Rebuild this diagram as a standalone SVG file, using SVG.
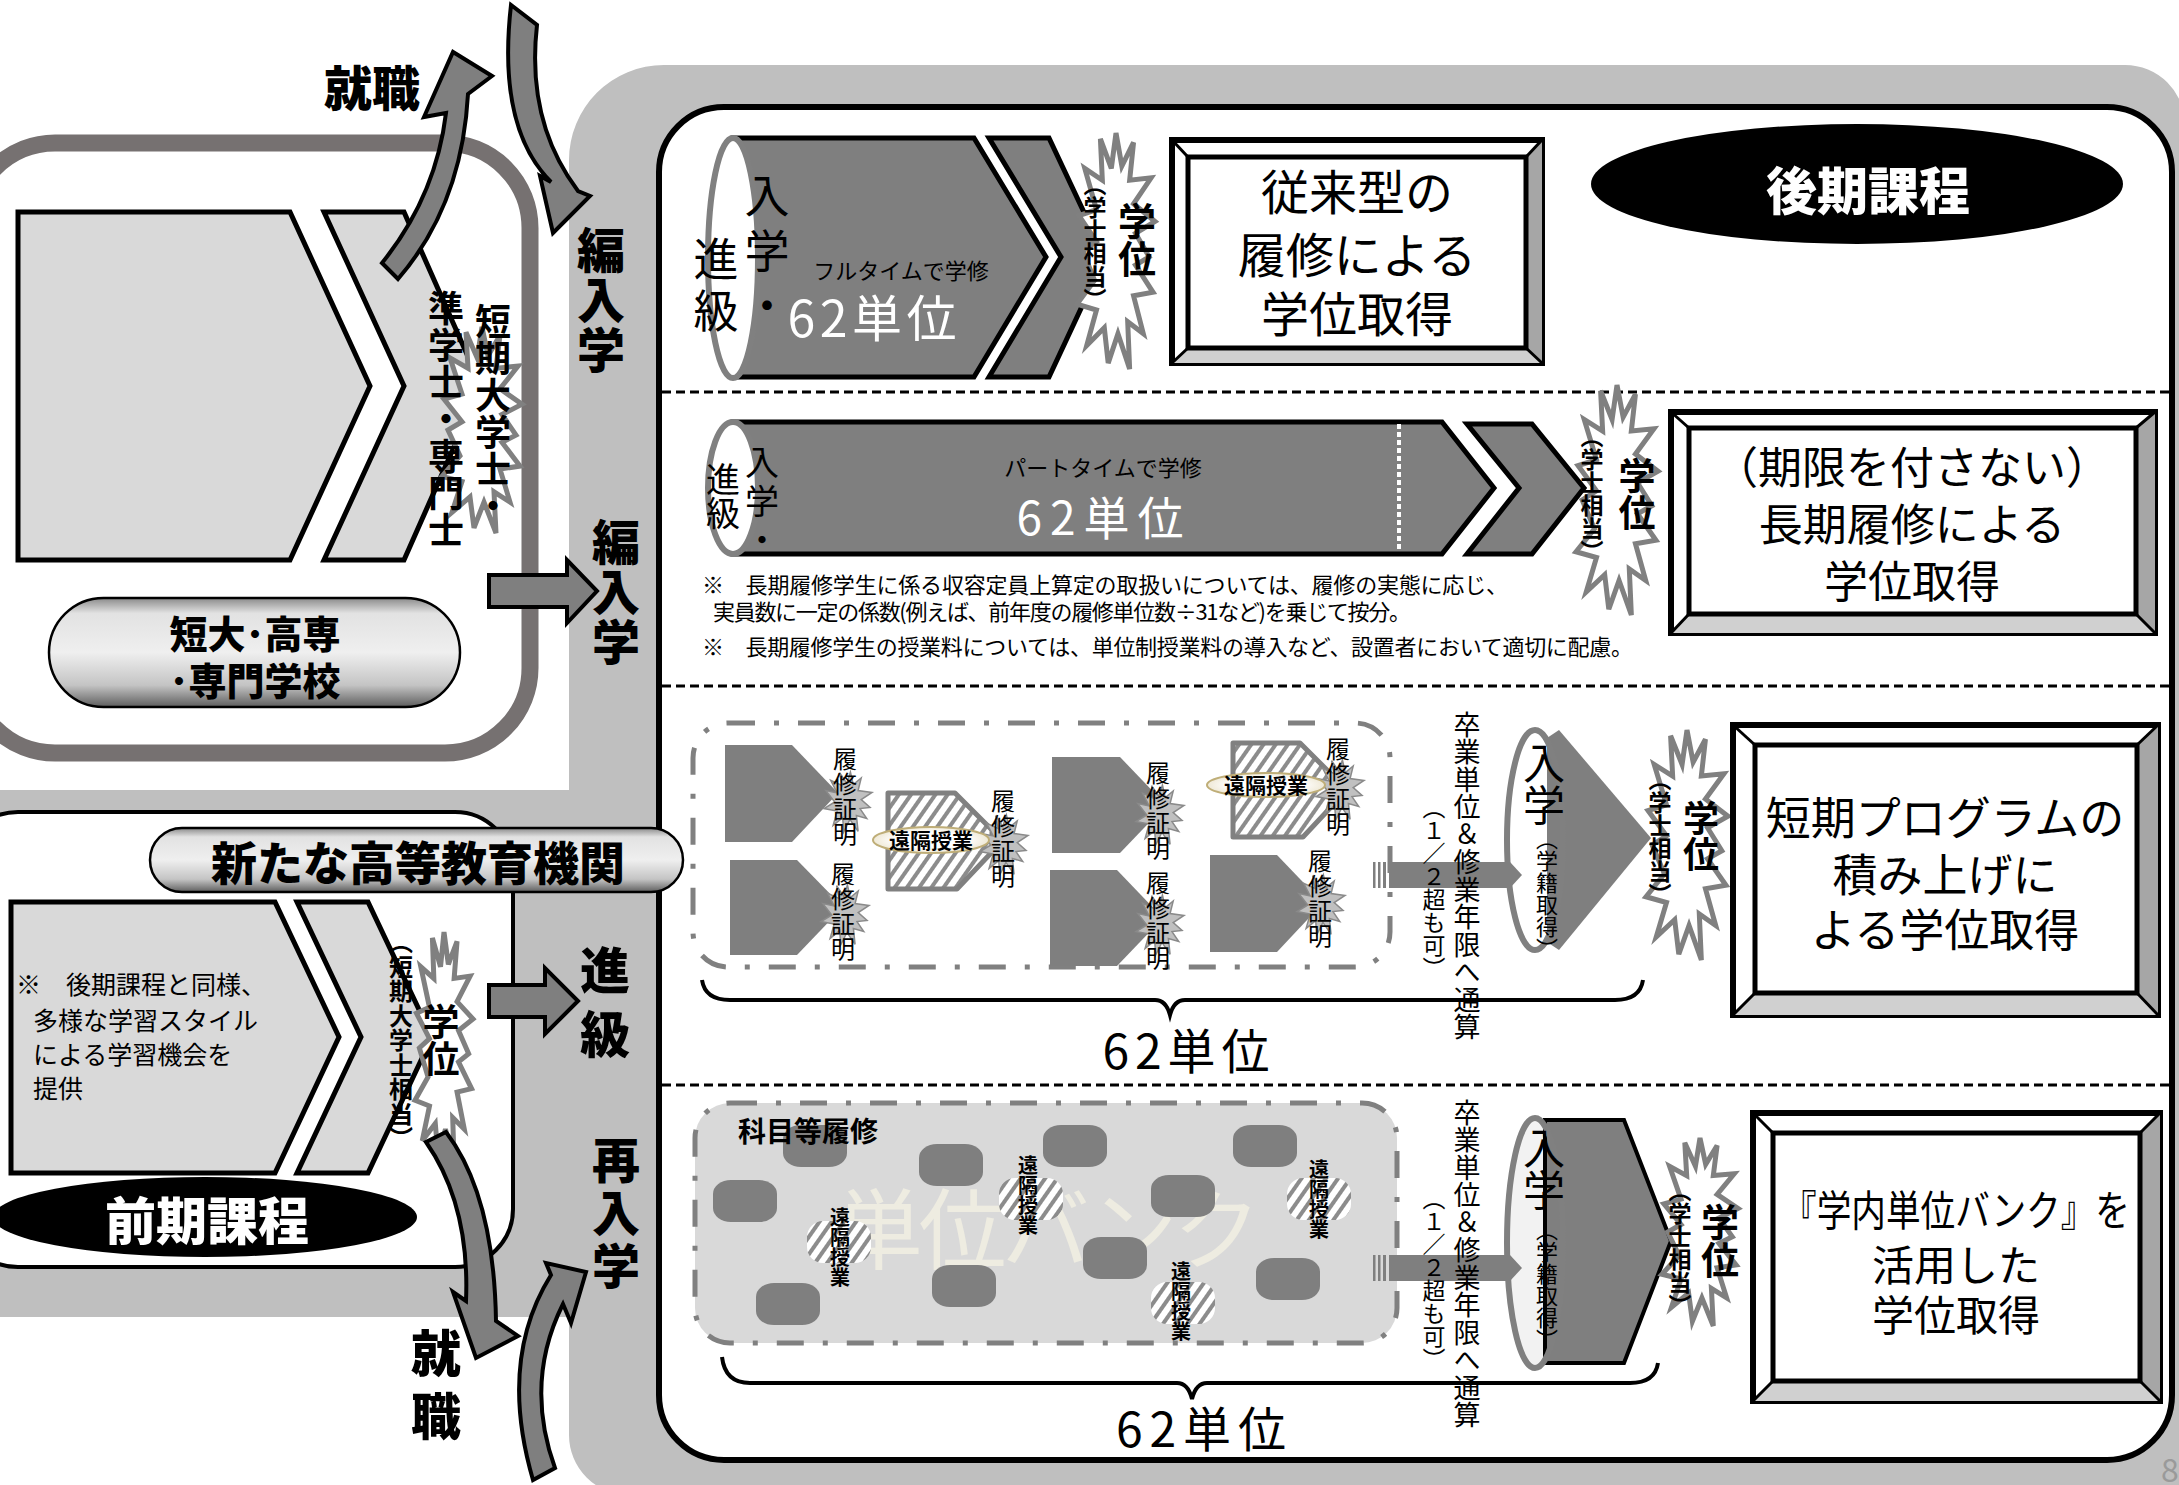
<svg xmlns="http://www.w3.org/2000/svg" xmlns:xlink="http://www.w3.org/1999/xlink" width="2179" height="1485" viewBox="0 0 2179 1485">
<style>
.t{font-family:'Noto Sans CJK JP','Noto Sans',sans-serif;fill:#000}
.b{font-weight:700}
.k{font-weight:900}
.v{writing-mode:vertical-rl}
.c{text-anchor:middle}
.arrow{fill:#7f7f7f;stroke:#000;stroke-width:4;stroke-linejoin:miter}
.gp{fill:#7f7f7f}
.gpb{fill:#7f7f7f;stroke:#000;stroke-width:5;stroke-linejoin:miter}
.lc{fill:#d9d9d9;stroke:#000;stroke-width:5;stroke-linejoin:miter}
.hatchshape{fill:url(#hatch);stroke:#808080;stroke-width:5;stroke-linejoin:round}
.dd{stroke:#808080;stroke-width:5;stroke-dasharray:27 19 5 19}
.sep{stroke:#000;stroke-width:3;stroke-dasharray:9 5;fill:none}
.brace{fill:none;stroke:#000;stroke-width:4}
.outer{fill:#fff;stroke:#000;stroke-width:6}
.inner{fill:#fff;stroke:#000;stroke-width:5}
.bevr{fill:#a6a6a6}
.bevb{fill:#d0d0d0}
.diag{stroke:#000;stroke-width:3}
.barrel{fill:#7f7f7f}
.hb{fill:url(#hatch)}
.pillsh{stroke:#000;stroke-width:2.5;fill:url(#pill)}
.ekk{fill:url(#eg);stroke:#bfae78;stroke-width:2}
.cylE{stroke:#808080;stroke-width:6}
.bb{fill:#fff;stroke:#808080;stroke-width:5}
.bs{fill:#c0c0c0;stroke:#8a8a8a;stroke-width:1.5}
</style>
<defs>
<pattern id="hatch" width="10" height="10" patternUnits="userSpaceOnUse" patternTransform="rotate(35)">
<rect width="10" height="10" fill="#fff"/><rect width="4" height="10" fill="#8c8c8c"/>
</pattern>
<linearGradient id="pill" x1="0" y1="0" x2="0" y2="1">
<stop offset="0" stop-color="#8a8a8a"/><stop offset="0.14" stop-color="#e2e2e2"/><stop offset="0.5" stop-color="#efefef"/><stop offset="0.8" stop-color="#c4c4c4"/><stop offset="1" stop-color="#5e5e5e"/>
</linearGradient>
<radialGradient id="eg" cx="0.5" cy="0.5" r="0.5">
<stop offset="0.6" stop-color="#ffffff"/><stop offset="1" stop-color="#efe9d6"/>
</radialGradient>
<polygon id="burstT" vector-effect="non-scaling-stroke" points="0,-1 0.15,-0.72 0.45,-0.92 0.35,-0.6 0.9,-0.62 0.45,-0.4 1,-0.25 0.5,-0.15 0.85,0.05 0.5,0.12 0.95,0.35 0.45,0.38 0.7,0.7 0.3,0.6 0.35,1 0.05,0.7 -0.2,0.95 -0.3,0.65 -0.75,0.8 -0.5,0.5 -1,0.45 -0.55,0.25 -0.85,0 -0.5,-0.08 -0.95,-0.3 -0.5,-0.35 -0.8,-0.7 -0.35,-0.6 -0.4,-0.95 -0.12,-0.7"/>
<polygon id="burstS" vector-effect="non-scaling-stroke" points="0.1,-1 0.22,-0.58 0.55,-0.8 0.42,-0.38 1,-0.32 0.55,-0.08 0.92,0.18 0.5,0.22 0.78,0.55 0.35,0.45 0.42,0.98 0.08,0.58 -0.18,1 -0.22,0.52 -0.62,0.78 -0.45,0.3 -1,0.22 -0.55,0 -0.92,-0.38 -0.45,-0.3 -0.72,-0.72 -0.25,-0.55 -0.35,-0.98 -0.05,-0.62"/>
</defs>

<rect x="0" y="0" width="2179" height="1485" fill="#fff"/>

<g id="background">
<path d="M569,160 A95,95 0 0 1 664,65 L2125,65 A60,60 0 0 1 2185,125 L2185,1495 L629,1495 A60,60 0 0 1 569,1435 L569,1317 L-5,1317 L-5,790 L569,790 Z" fill="#bfbfbf"/>
<text class="t" x="2161" y="1482" font-size="32" style="fill:#9a9a9a">8</text>
</g>

<g id="junior-college">
<rect x="-30" y="143" width="560" height="610" rx="85" fill="#fff" stroke="#767171" stroke-width="17"/>
<polygon class="lc" points="18,212 290,212 370,386 290,560 18,560"/>
<polygon class="lc" points="324,212 404,212 481,386 404,560 324,560 404,386"/>
<use href="#burstT" class="bb" transform="translate(482,430) scale(40,103)"/>
<text class="t b v" x="493" y="303" font-size="36" letter-spacing="1">短期大学士・</text>
<text class="t b v" x="446" y="290" font-size="36" letter-spacing="1">準学士・専門士</text>
<rect class="pillsh" x="49" y="598" width="411" height="109" rx="54.5"/>
<text class="t k c" x="255" y="648" font-size="38">短大･高専</text>
<text class="t k c" x="255" y="695" font-size="38">･専門学校</text>
</g>

<g id="first-stage">
<rect x="-40" y="812" width="553" height="455" rx="58" fill="#fff" stroke="#000" stroke-width="4"/>
<polygon class="lc" points="11,902 275,902 339,1037 275,1173 11,1173"/>
<polygon class="lc" points="297,902 368,902 432,1037 368,1173 297,1173 361,1037"/>
<text class="t" x="16" y="994" font-size="25">※　後期課程と同様、</text>
<text class="t" x="33" y="1030" font-size="25">多様な学習スタイル</text>
<text class="t" x="33" y="1064" font-size="25">による学習機会を</text>
<text class="t" x="33" y="1098" font-size="25">提供</text>
<use href="#burstT" class="bb" transform="translate(444,1048) scale(29,116)"/>
<text class="t b v" x="401" y="930" font-size="24" letter-spacing="0.5">（短期大学士相当）</text>
<text class="t b v" x="441" y="1003" font-size="37">学位</text>
<ellipse cx="205" cy="1217" rx="212" ry="40" fill="#000"/>
<text class="t k c" x="207" y="1240" font-size="51" style="fill:#fff">前期課程</text>
</g>

<g id="second-stage-panel">
<rect x="659" y="107" width="1513" height="1353" rx="65" fill="#fff" stroke="#000" stroke-width="6"/>
<line class="sep" x1="662" y1="392" x2="2169" y2="392"/>
<line class="sep" x1="662" y1="686" x2="2169" y2="686"/>
<line class="sep" x1="662" y1="1085" x2="2169" y2="1085"/>
<ellipse cx="1857" cy="184" rx="266" ry="60" fill="#000"/>
<text class="t k c" x="1868" y="210" font-size="51" style="fill:#fff">後期課程</text>
</g>

<g id="row1-fulltime">
<polygon class="gpb" points="733,138 974,138 1046,257 974,377 733,377"/>
<ellipse class="cylE" cx="733" cy="258" rx="25" ry="120" fill="#fff"/>
<polygon class="gpb" points="989,138 1049,138 1105,257 1049,377 989,377 1061,257"/>
<text class="t v" x="767" y="173" font-size="45" letter-spacing="10">入学・</text>
<text class="t v" x="716" y="236" font-size="45" letter-spacing="7">進級</text>
<text class="t c" x="901" y="279" font-size="22">フルタイムで学修</text>
<text class="t c" x="872" y="337" font-size="50" textLength="169" style="fill:#fff">62単位</text>
<use href="#burstT" class="bb" transform="translate(1116,251) scale(39,118)"/>
<text class="t b v" x="1095" y="173" font-size="23">（学士相当）</text>
<text class="t b v" x="1137" y="202" font-size="38">学位</text>
</g>

<g id="box1">
<rect class="outer" x="1172" y="140" width="370" height="223"/>
<polygon class="bevr" points="1542,140 1542,363 1526,348 1526,157"/>
<polygon class="bevb" points="1172,363 1542,363 1526,348 1188,348"/>
<line class="diag" x1="1172" y1="140" x2="1188" y2="157"/><line class="diag" x1="1542" y1="140" x2="1526" y2="157"/>
<line class="diag" x1="1542" y1="363" x2="1526" y2="348"/><line class="diag" x1="1172" y1="363" x2="1188" y2="348"/>
<rect class="inner" x="1188" y="157" width="338" height="191"/>
<text class="t c" x="1357" y="210" font-size="48">従来型の</text>
<text class="t c" x="1357" y="273" font-size="48">履修による</text>
<text class="t c" x="1357" y="332" font-size="48">学位取得</text>
</g>

<g id="row2-parttime">
<polygon class="gpb" points="733,422 1442,422 1494,488 1442,554 733,554"/>
<line x1="1399" y1="424" x2="1399" y2="552" stroke="#fff" stroke-width="4" stroke-dasharray="5 3"/>
<ellipse class="cylE" cx="733" cy="488" rx="25" ry="66" fill="#fff"/>
<polygon class="gpb" points="1467,424 1532,424 1584,488 1532,554 1467,554 1519,488"/>
<text class="t v" x="762" y="445" font-size="34" letter-spacing="5">入学・</text>
<text class="t v" x="723" y="462" font-size="34">進級</text>
<text class="t c" x="1103" y="476" font-size="22">パートタイムで学修</text>
<text class="t c" x="1100" y="535" font-size="46" textLength="167" style="fill:#fff">62単位</text>
<use href="#burstT" class="bb" transform="translate(1617,500) scale(41,115)"/>
<text class="t b v" x="1592" y="425" font-size="23">（学士相当）</text>
<text class="t b v" x="1637" y="457" font-size="37">学位</text>
<text class="t" x="702" y="593" font-size="22" textLength="806">※　長期履修学生に係る収容定員上算定の取扱いについては、履修の実態に応じ、</text>
<text class="t" x="713" y="620" font-size="22" textLength="698">実員数に一定の係数(例えば、前年度の履修単位数÷31など)を乗じて按分。</text>
<text class="t" x="702" y="655" font-size="22" textLength="931">※　長期履修学生の授業料については、単位制授業料の導入など、設置者において適切に配慮。</text>
</g>

<g id="box2">
<rect class="outer" x="1671" y="412" width="484" height="221"/>
<polygon class="bevr" points="2155,412 2155,633 2136,614 2136,428"/>
<polygon class="bevb" points="1671,633 2155,633 2136,614 1689,614"/>
<line class="diag" x1="1671" y1="412" x2="1689" y2="428"/><line class="diag" x1="2155" y1="412" x2="2136" y2="428"/>
<line class="diag" x1="2155" y1="633" x2="2136" y2="614"/><line class="diag" x1="1671" y1="633" x2="1689" y2="614"/>
<rect class="inner" x="1689" y="428" width="447" height="186"/>
<text class="t c" x="1912" y="484" font-size="44">（期限を付さない）</text>
<text class="t c" x="1912" y="541" font-size="44">長期履修による</text>
<text class="t c" x="1912" y="598" font-size="44">学位取得</text>
</g>

<g id="row3-short-program">
<rect x="693" y="723" width="697" height="244" rx="35" fill="#fff" class="dd"/>
<polygon class="gp" points="725,745 792,745 838,793 792,842 725,842"/>
<polygon class="gp" points="730,860 797,860 843,907 797,955 730,955"/>
<polygon class="hatchshape" points="888,793 955,793 992,830 992,852 957,889 888,889"/>
<polygon class="gp" points="1052,757 1120,757 1166,805 1120,853 1052,853"/>
<polygon class="gp" points="1050,870 1117,870 1163,918 1117,966 1050,966"/>
<polygon class="hatchshape" points="1233,743 1300,743 1332,775 1332,806 1303,837 1233,837"/>
<polygon class="gp" points="1210,855 1277,855 1323,903 1277,952 1210,952"/>
<use href="#burstS" class="bs" transform="translate(848,802) scale(24,30)"/>
<use href="#burstS" class="bs" transform="translate(845,915) scale(24,30)"/>
<use href="#burstS" class="bs" transform="translate(1004,845) scale(24,30)"/>
<use href="#burstS" class="bs" transform="translate(1160,815) scale(24,30)"/>
<use href="#burstS" class="bs" transform="translate(1160,925) scale(24,30)"/>
<use href="#burstS" class="bs" transform="translate(1340,790) scale(24,30)"/>
<use href="#burstS" class="bs" transform="translate(1321,905) scale(24,30)"/>
<ellipse class="ekk" cx="931" cy="840" rx="58" ry="13"/>
<text class="t b c" x="931" y="848" font-size="21">遠隔授業</text>
<ellipse class="ekk" cx="1266" cy="785" rx="59" ry="12"/>
<text class="t b c" x="1266" y="793" font-size="21">遠隔授業</text>
<text class="t v" x="845" y="747" font-size="24" letter-spacing="1">履修証明</text>
<text class="t v" x="843" y="862" font-size="24" letter-spacing="1">履修証明</text>
<text class="t v" x="1003" y="789" font-size="24" letter-spacing="1">履修証明</text>
<text class="t v" x="1158" y="761" font-size="24" letter-spacing="1">履修証明</text>
<text class="t v" x="1158" y="871" font-size="24" letter-spacing="1">履修証明</text>
<text class="t v" x="1338" y="737" font-size="24" letter-spacing="1">履修証明</text>
<text class="t v" x="1320" y="849" font-size="24" letter-spacing="1">履修証明</text>
<text class="t c" x="1186" y="1069" font-size="48" textLength="167">62単位</text>
</g>

<g id="row3-entry">
<ellipse cx="1535" cy="840" rx="28" ry="110" fill="#fff"/>
<polygon class="gp" points="1547,738 1559,730 1651,838 1559,950 1547,942"/>
<ellipse class="cylE" cx="1535" cy="840" rx="28" ry="110" fill="none"/>
<text class="t v" x="1544" y="742" font-size="42">入学</text>
<text class="t v" x="1547" y="828" font-size="22">（学籍取得）</text>
<use href="#burstT" class="bb" transform="translate(1687,845) scale(41,115)"/>
<text class="t b v" x="1660" y="768" font-size="23">（学士相当）</text>
<text class="t b v" x="1701" y="800" font-size="36">学位</text>
</g>

<g id="box3">
<rect class="outer" x="1733" y="725" width="425" height="290"/>
<polygon class="bevr" points="2158,725 2158,1015 2137,993 2137,745"/>
<polygon class="bevb" points="1733,1015 2158,1015 2137,993 1755,993"/>
<line class="diag" x1="1733" y1="725" x2="1755" y2="745"/><line class="diag" x1="2158" y1="725" x2="2137" y2="745"/>
<line class="diag" x1="2158" y1="1015" x2="2137" y2="993"/><line class="diag" x1="1733" y1="1015" x2="1755" y2="993"/>
<rect class="inner" x="1755" y="745" width="382" height="248"/>
<text class="t c" x="1945" y="835" font-size="45">短期プログラムの</text>
<text class="t c" x="1945" y="892" font-size="45">積み上げに</text>
<text class="t c" x="1945" y="947" font-size="45">よる学位取得</text>
</g>

<g id="row4-credit-bank">
<rect x="695" y="1103" width="702" height="240" rx="35" fill="#d9d9d9" class="dd"/>
<text class="t c" x="1048" y="1262" font-size="88" textLength="426" style="fill:#eeece1">単位バンク</text>
<rect class="barrel" x="783" y="1125" width="64" height="42" rx="18" ry="14"/>
<rect class="barrel" x="919" y="1144" width="64" height="42" rx="18" ry="14"/>
<rect class="barrel" x="1043" y="1125" width="64" height="42" rx="18" ry="14"/>
<rect class="barrel" x="1233" y="1125" width="64" height="42" rx="18" ry="14"/>
<rect class="barrel" x="713" y="1180" width="64" height="42" rx="18" ry="14"/>
<rect class="barrel" x="1151" y="1175" width="64" height="42" rx="18" ry="14"/>
<rect class="barrel" x="1083" y="1237" width="64" height="42" rx="18" ry="14"/>
<rect class="barrel" x="1256" y="1258" width="64" height="42" rx="18" ry="14"/>
<rect class="barrel" x="932" y="1265" width="64" height="42" rx="18" ry="14"/>
<rect class="barrel" x="756" y="1283" width="64" height="42" rx="18" ry="14"/>
<rect class="hb" x="807" y="1221" width="64" height="42" rx="16"/>
<rect class="hb" x="999" y="1178" width="64" height="42" rx="16"/>
<rect class="hb" x="1151" y="1282" width="64" height="42" rx="16"/>
<rect class="hb" x="1287" y="1178" width="64" height="42" rx="16"/>
<text class="t b" x="738" y="1142" font-size="28">科目等履修</text>
<text class="t b v" x="840" y="1207" font-size="20">遠隔授業</text>
<text class="t b v" x="1028" y="1155" font-size="20">遠隔授業</text>
<text class="t b v" x="1181" y="1261" font-size="20">遠隔授業</text>
<text class="t b v" x="1319" y="1159" font-size="20">遠隔授業</text>
<text class="t c" x="1201" y="1447" font-size="48" textLength="170">62単位</text>
</g>

<g id="row4-entry">
<ellipse cx="1535" cy="1243" rx="28" ry="125" fill="#f2f2f2"/>
<polygon class="gpb" points="1545,1120 1624,1120 1671,1241 1624,1363 1545,1363" style="stroke-width:4"/>
<ellipse class="cylE" cx="1535" cy="1243" rx="28" ry="125" fill="none"/>
<text class="t v" x="1544" y="1127" font-size="42">入学</text>
<text class="t v" x="1547" y="1219" font-size="22">（学籍取得）</text>
<use href="#burstT" class="bb" transform="translate(1700,1232) scale(38,94)"/>
<text class="t b v" x="1680" y="1179" font-size="23">（学士相当）</text>
<text class="t b v" x="1720" y="1203" font-size="38">学位</text>
</g>

<g id="box4">
<rect class="outer" x="1753" y="1113" width="407" height="288"/>
<polygon class="bevr" points="2160,1113 2160,1401 2140,1381 2140,1133"/>
<polygon class="bevb" points="1753,1401 2160,1401 2140,1381 1773,1381"/>
<line class="diag" x1="1753" y1="1113" x2="1773" y2="1133"/><line class="diag" x1="2160" y1="1113" x2="2140" y2="1133"/>
<line class="diag" x1="2160" y1="1401" x2="2140" y2="1381"/><line class="diag" x1="1753" y1="1401" x2="1773" y2="1381"/>
<rect class="inner" x="1773" y="1133" width="367" height="248"/>
<text class="t c" x="1956" y="1226" font-size="42" textLength="348" lengthAdjust="spacingAndGlyphs">『学内単位バンク』を</text>
<text class="t c" x="1956" y="1281" font-size="42">活用した</text>
<text class="t c" x="1956" y="1331" font-size="42">学位取得</text>
</g>

<g id="new-institution">
<rect class="pillsh" x="150" y="828" width="533" height="64" rx="32"/>
<text class="t k c" x="418" y="880" font-size="46">新たな高等教育機関</text>
</g>

<g id="connectors">
<path class="arrow" d="M382,263 Q436,196 446,113 L424,117 L453,52 L492,76 L468,94 Q462,205 398,279 Z"/>
<path class="arrow" d="M511,5 Q497,128 551,182 L540,176 L553,233 L590,196 L578,191 Q526,122 537,25 Z"/>
<path class="arrow" d="M489,575 L567,575 L567,560 L597,591 L567,623 L567,607 L489,607 Z"/>
<path class="arrow" d="M489,985 L545,985 L545,968 L578,1001 L545,1034 L545,1017 L489,1017 Z"/>
<path class="arrow" d="M426,1142 Q470,1205 466,1301 L453,1292 L476,1358 L518,1336 L496,1321 Q494,1195 446,1132 Z"/>
<path class="arrow" d="M533,1480 Q498,1360 551,1275 L546,1263 L586,1272 L571,1323 L563,1304 Q524,1382 555,1468 Z"/>
<g fill="#7f7f7f">
<rect x="1373" y="862" width="2.5" height="26"/><rect x="1378" y="862" width="2.5" height="26"/><rect x="1383" y="862" width="3" height="26"/>
<polygon points="1389,862 1510,862 1522,875 1510,888 1389,888"/>
<rect x="1373" y="1255" width="2.5" height="26"/><rect x="1378" y="1255" width="2.5" height="26"/><rect x="1383" y="1255" width="3" height="26"/>
<polygon points="1389,1255 1510,1255 1522,1268 1510,1281 1389,1281"/>
</g>
<path class="brace" d="M702,980 Q705,1000 730,1000 L1155,1000 Q1166,1000 1170,1015 Q1174,1000 1185,1000 L1615,1000 Q1640,1000 1643,980"/>
<path class="brace" d="M722,1357 Q725,1383 750,1383 L1177,1383 Q1188,1383 1192,1399 Q1196,1383 1207,1383 L1630,1383 Q1655,1383 1658,1363"/>
<text class="t k" x="324" y="106" font-size="48">就職</text>
<text class="t k v" x="601" y="226" font-size="48" letter-spacing="2">編入学</text>
<text class="t k v" x="616" y="518" font-size="48" letter-spacing="2">編入学</text>
<text class="t k v" x="605" y="945" font-size="50" letter-spacing="14">進級</text>
<text class="t k v" x="616" y="1136" font-size="48" letter-spacing="5">再入学</text>
<text class="t k v" x="436" y="1328" font-size="50" letter-spacing="13">就職</text>
</g>

<g id="row3-credit-rule">
<text class="t v" x="1467" y="711" font-size="27" letter-spacing="0.5">卒業単位＆修業年限へ通算</text>
<text class="t v" x="1434" y="796" font-size="23">（１／２超も可）</text>
</g>

<g id="row4-credit-rule">
<text class="t v" x="1467" y="1099" font-size="27" letter-spacing="0.5">卒業単位＆修業年限へ通算</text>
<text class="t v" x="1434" y="1187" font-size="23">（１／２超も可）</text>
</g>
</svg>
